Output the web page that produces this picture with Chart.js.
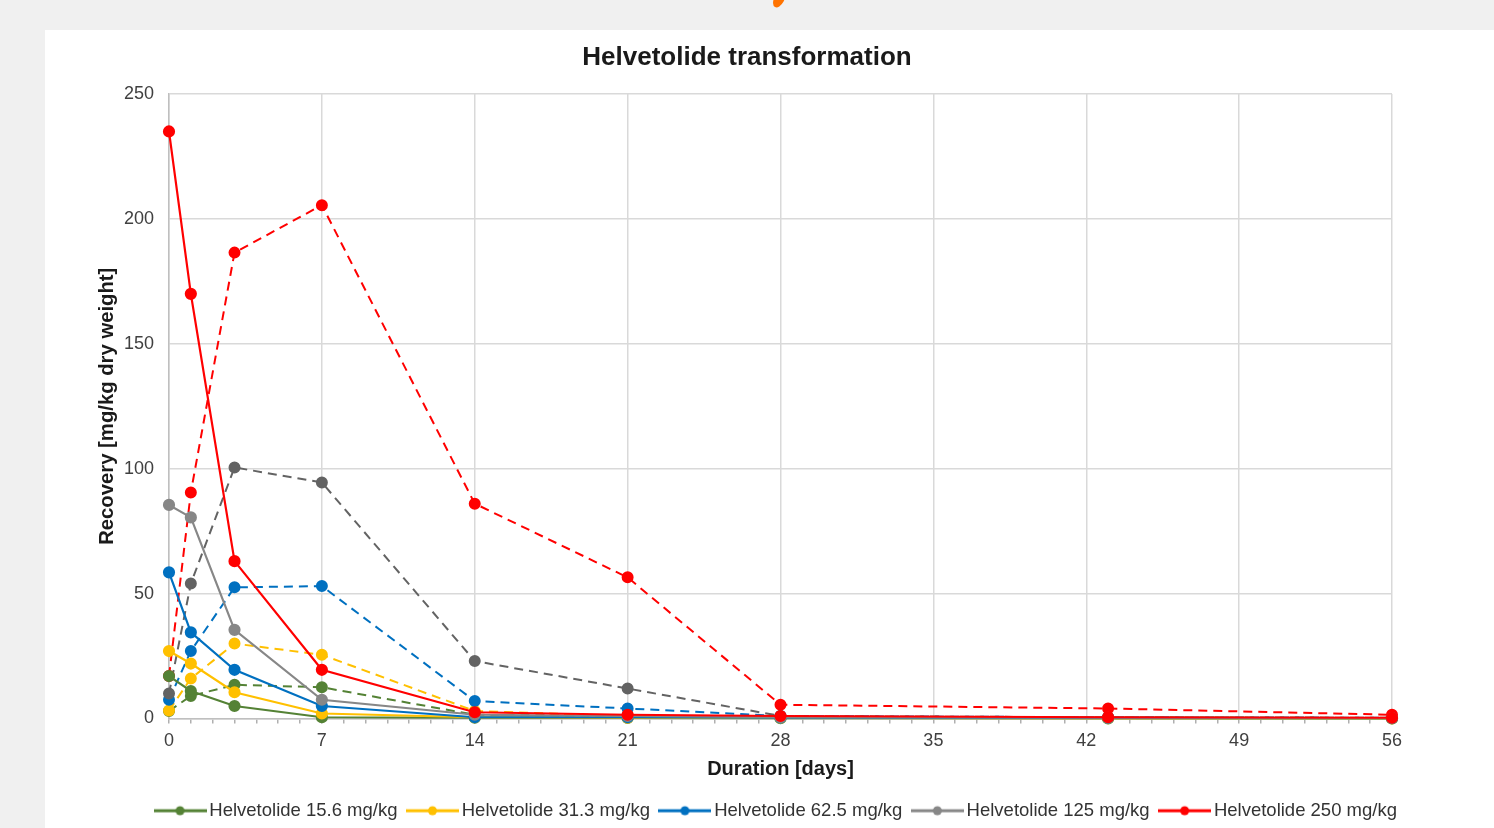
<html>
<head>
<script src="https://cdn.jsdelivr.net/npm/chart.js@4"></script>
<style>
  body { margin: 0; background: #f0f0f0; overflow: hidden; }
  #logo { position: absolute; left: 774px; top: -9px; width: 10px; height: 17px; background: #ff7300; border-radius: 50%; transform: rotate(28deg); }
  #panel { position: absolute; left: 45px; top: 30px; width: 1449px; height: 800px; background: #fff; }
  #wrap { position: absolute; left: 0; top: 0; width: 1449px; height: 800px; }
</style>
</head>
<body>
<div id="logo"></div>
<div id="panel"><div id="wrap"><canvas id="chart"></canvas></div></div>
<script>
// sampling days
var days = [0, 1, 3, 7, 14, 21, 28, 43, 56];

// solid lines (legend)
var helv156 = [17, 11, 5, 0.5, 0.3, 0.2, 0.1, 0, 0];
var helv313 = [27, 22, 10.5, 2, 0.5, 0.3, 0.2, 0.1, 0];
var helv625 = [58.5, 34.5, 19.5, 5, 0.5, 0.5, 0.3, 0.2, 0.1];
var helv125 = [85.5, 80.5, 35.5, 7.5, 1.5, 1, 0.5, 0.3, 0.2];
var helv250 = [235, 170, 63, 19.5, 2.5, 1.5, 1, 0.5, 0.3];

// dashed lines (not in legend)
var tp156 = [3, 9, 13.5, 12.5, 1.5, 1, 0.5, 0.3, 0.2];
var tp313 = [3.2, 16, 30, 25.5, 3, 1, 0.5, 0.3, 0.2];
var tp625 = [7.5, 27, 52.5, 53, 7, 4, 1, 0.5, 0.3];
var tp125 = [10, 54, 100.5, 94.5, 23, 12, 1, 0.5, 0.3];
var tp250 = [17, 90.5, 186.5, 205.5, 86, 56.5, 5.5, 4, 1.5];

var xTicks = [0, 7, 14, 21, 28, 35, 42, 49, 56];
var yTicks = [0, 50, 100, 150, 200, 250];

var green = '#548235', yellow = '#ffc000', blue = '#0070c0', grey = '#878787', greyDark = '#636363', red = '#ff0000';

Chart.defaults.font.family = '"Liberation Sans", Arial, sans-serif';

function pts(vals) {
    return vals.map(function (v, i) { return { x: days[i], y: v }; });
}

function line(label, vals, color, dashed, order) {
    return {
        label: label,
        data: pts(vals),
        borderColor: color,
        backgroundColor: color,
        pointBackgroundColor: color,
        pointBorderColor: color,
        borderWidth: dashed ? 2 : 2.2,
        borderDash: dashed ? [9, 6] : [],
        pointRadius: 5,
        pointHoverRadius: 5,
        tension: 0,
        clip: false,
        order: order
    };
}

// little line-with-dot icon for the legend
function legendIcon(color) {
    var c = document.createElement('canvas');
    c.width = 53; c.height = 12;
    var g = c.getContext('2d');
    g.strokeStyle = color; g.lineWidth = 3;
    g.beginPath(); g.moveTo(0, 6); g.lineTo(53, 6); g.stroke();
    g.fillStyle = color;
    g.beginPath(); g.arc(26.5, 6, 4.5, 0, Math.PI * 2); g.fill();
    return c;
}

var solidLabels = ['Helvetolide 15.6 mg/kg', 'Helvetolide 31.3 mg/kg', 'Helvetolide 62.5 mg/kg', 'Helvetolide 125 mg/kg', 'Helvetolide 250 mg/kg'];

var datasets = [
    line(solidLabels[0], helv156, green, false, 5),
    line(solidLabels[1], helv313, yellow, false, 4),
    line(solidLabels[2], helv625, blue, false, 3),
    line(solidLabels[3], helv125, grey, false, 2),
    line(solidLabels[4], helv250, red, false, 1),
    line('TP 15.6 mg/kg', tp156, green, true, 10),
    line('TP 31.3 mg/kg', tp313, yellow, true, 9),
    line('TP 62.5 mg/kg', tp625, blue, true, 8),
    line('TP 125 mg/kg', tp125, greyDark, true, 7),
    line('TP 250 mg/kg', tp250, red, true, 6)
];

// title drawn at its own spot, legend nudged right
var layoutPlugin = {
    id: 'fixedBits',
    afterLayout: function (chart) {
        chart.legend.left += 60;
        chart.legend.right += 60;
    },
    afterDraw: function (chart) {
        var ctx = chart.ctx;
        ctx.save();
        ctx.font = 'bold 26px "Liberation Sans", Arial, sans-serif';
        ctx.fillStyle = '#1a1a1a';
        ctx.textAlign = 'center';
        ctx.textBaseline = 'middle';
        ctx.fillText('Helvetolide transformation', 702, 28);
        ctx.restore();
    }
};

var ctx = document.getElementById('chart').getContext('2d');
var chart = new Chart(ctx, {
    type: 'line',
    data: { datasets: datasets },
    plugins: [layoutPlugin],
    options: {
        responsive: true,
        maintainAspectRatio: false,
        animation: false,
        layout: { padding: { top: 64, right: 102, left: 0, bottom: 0 } },
        plugins: {
            title: { display: false },
            tooltip: { enabled: false },
            legend: {
                position: 'bottom',
                labels: {
                    usePointStyle: true,
                    pointStyleWidth: 40,
                    padding: 15,
                    color: '#333',
                    font: { size: 18.5 },
                    generateLabels: function (chart) {
                        return chart.data.datasets.map(function (ds, i) {
                            return {
                                text: ds.label,
                                datasetIndex: i,
                                pointStyle: legendIcon(ds.borderColor),
                                fillStyle: ds.borderColor,
                                strokeStyle: ds.borderColor,
                                lineWidth: 0,
                                fontColor: '#333',
                                hidden: false
                            };
                        }).filter(function (it) { return solidLabels.indexOf(it.text) >= 0; });
                    }
                }
            }
        },
        scales: {
            x: {
                type: 'linear',
                min: 0,
                max: 56,
                afterFit: function (s) { s.height = 68; },
                afterBuildTicks: function (s) {
                    var t = [];
                    for (var d = 0; d <= 56; d++) t.push({ value: d });
                    s.ticks = t;
                },
                ticks: {
                    autoSkip: false,
                    maxRotation: 0,
                    padding: 7,
                    color: '#404040',
                    font: { size: 18 },
                    callback: function (v) { return xTicks.indexOf(v) >= 0 ? v : ''; }
                },
                grid: {
                    color: function (c) { return c.tick && xTicks.indexOf(c.tick.value) >= 0 ? '#d9d9d9' : 'rgba(0,0,0,0)'; },
                    tickColor: '#b0b0b0',
                    tickLength: 5,
                    lineWidth: 1.5
                },
                border: { color: '#bfbfbf', width: 1.5 },
                title: {
                    display: true,
                    text: 'Duration [days]',
                    color: '#1a1a1a',
                    font: { size: 20, weight: 'bold' },
                    padding: { top: 0, bottom: 5 }
                }
            },
            y: {
                min: 0,
                max: 250,
                afterFit: function (s) { s.width = 124; },
                afterBuildTicks: function (s) {
                    s.ticks = yTicks.map(function (v) { return { value: v }; });
                },
                ticks: {
                    padding: 15,
                    color: '#404040',
                    font: { size: 18 }
                },
                grid: { color: '#d9d9d9', drawTicks: false, lineWidth: 1.5 },
                border: { color: '#bfbfbf', width: 1.5 },
                title: {
                    display: true,
                    text: 'Recovery [mg/kg dry weight]',
                    color: '#1a1a1a',
                    font: { size: 20.3, weight: 'bold' },
                    padding: { top: 50, bottom: 0 }
                }
            }
        }
    }
});
</script>
</body>
</html>
